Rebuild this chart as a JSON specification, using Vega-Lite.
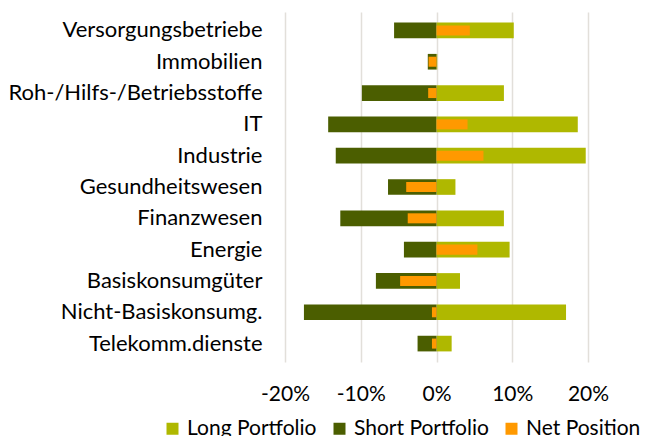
{
  "$schema": "https://vega.github.io/schema/vega-lite/v6.json",
  "width": 303,
  "height": 350,
  "autosize": {"type": "none"},
  "padding": {"left": 285, "top": 12, "right": 61, "bottom": 74},
  "background": "white",
  "config": {"view": {"stroke": null}, "font": "Lato"},
  "data": {
    "values": [
      {"sector": "Versorgungsbetriebe", "series": "Long Portfolio", "value": 10.2},
      {"sector": "Versorgungsbetriebe", "series": "Short Portfolio", "value": -5.6},
      {"sector": "Versorgungsbetriebe", "series": "Net Position", "value": 4.4},
      {"sector": "Immobilien", "series": "Long Portfolio", "value": 0.1},
      {"sector": "Immobilien", "series": "Short Portfolio", "value": -1.15},
      {"sector": "Immobilien", "series": "Net Position", "value": -1.05},
      {"sector": "Roh-/Hilfs-/Betriebsstoffe", "series": "Long Portfolio", "value": 8.9},
      {"sector": "Roh-/Hilfs-/Betriebsstoffe", "series": "Short Portfolio", "value": -9.85},
      {"sector": "Roh-/Hilfs-/Betriebsstoffe", "series": "Net Position", "value": -1.1},
      {"sector": "IT", "series": "Long Portfolio", "value": 18.65},
      {"sector": "IT", "series": "Short Portfolio", "value": -14.3},
      {"sector": "IT", "series": "Net Position", "value": 4.1},
      {"sector": "Industrie", "series": "Long Portfolio", "value": 19.7},
      {"sector": "Industrie", "series": "Short Portfolio", "value": -13.3},
      {"sector": "Industrie", "series": "Net Position", "value": 6.2},
      {"sector": "Gesundheitswesen", "series": "Long Portfolio", "value": 2.5},
      {"sector": "Gesundheitswesen", "series": "Short Portfolio", "value": -6.4},
      {"sector": "Gesundheitswesen", "series": "Net Position", "value": -4.0},
      {"sector": "Finanzwesen", "series": "Long Portfolio", "value": 8.9},
      {"sector": "Finanzwesen", "series": "Short Portfolio", "value": -12.7},
      {"sector": "Finanzwesen", "series": "Net Position", "value": -3.8},
      {"sector": "Energie", "series": "Long Portfolio", "value": 9.65},
      {"sector": "Energie", "series": "Short Portfolio", "value": -4.3},
      {"sector": "Energie", "series": "Net Position", "value": 5.4},
      {"sector": "Basiskonsumgüter", "series": "Long Portfolio", "value": 3.1},
      {"sector": "Basiskonsumgüter", "series": "Short Portfolio", "value": -8.0},
      {"sector": "Basiskonsumgüter", "series": "Net Position", "value": -4.8},
      {"sector": "Nicht-Basiskonsumg.", "series": "Long Portfolio", "value": 17.1},
      {"sector": "Nicht-Basiskonsumg.", "series": "Short Portfolio", "value": -17.5},
      {"sector": "Nicht-Basiskonsumg.", "series": "Net Position", "value": -0.6},
      {"sector": "Telekomm.dienste", "series": "Long Portfolio", "value": 2.0},
      {"sector": "Telekomm.dienste", "series": "Short Portfolio", "value": -2.5},
      {"sector": "Telekomm.dienste", "series": "Net Position", "value": -0.6}
    ]
  },
  "encoding": {
    "y": {
      "field": "sector",
      "type": "nominal",
      "sort": null,
      "scale": {"paddingInner": 0, "paddingOuter": 0.088},
      "axis": {"title": null, "domain": false, "ticks": false, "grid": false, "labelFontSize": 22, "labelPadding": 23, "labelLimit": 0, "labelColor": "#000000"}
    },
    "x": {
      "field": "value",
      "type": "quantitative",
      "scale": {"domain": [-20, 20], "nice": false},
      "axis": {
        "title": null,
        "values": [-20, -10, 0, 10, 20],
        "labelExpr": "datum.value + '%'",
        "labelFlush": false,
        "labelOverlap": false,
        "domain": false,
        "ticks": false,
        "grid": true,
        "gridColor": "#E2DFDA",
        "gridWidth": 1.5,
        "labelFontSize": 21,
        "labelPadding": 21,
        "labelColor": "#000000"
      }
    },
    "color": {
      "field": "series",
      "type": "nominal",
      "scale": {"domain": ["Long Portfolio", "Short Portfolio", "Net Position"], "range": ["#AFB800", "#4B5E00", "#FF9900"]},
      "legend": {
        "title": null,
        "orient": "none",
        "legendX": -123,
        "legendY": 406,
        "direction": "horizontal",
        "symbolType": "square",
        "symbolSize": 144,
        "symbolStrokeWidth": 0,
        "labelFontSize": 21,
        "labelLimit": 0,
        "labelColor": "#000000",
        "labelOffset": 4,
        "columnPadding": 12
      }
    }
  },
  "layer": [
    {
      "transform": [{"filter": "datum.series !== 'Net Position'"}],
      "mark": {"type": "bar", "height": {"band": 0.5}}
    },
    {
      "transform": [{"filter": "datum.series === 'Net Position'"}],
      "mark": {"type": "bar", "height": {"band": 0.32}}
    }
  ]
}
